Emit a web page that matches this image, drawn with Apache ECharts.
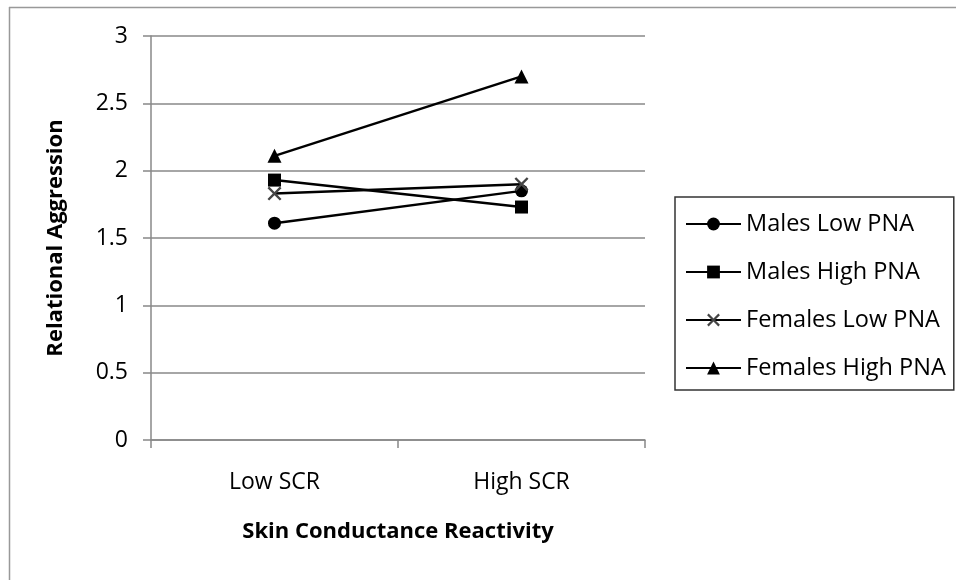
<!DOCTYPE html>
<html>
<head>
<meta charset="utf-8">
<script src="https://cdn.jsdelivr.net/npm/echarts@6/dist/echarts.min.js"></script>
<style>html,body{margin:0;padding:0;background:#fff;}#c{width:956px;height:580px;}</style>
</head>
<body>
<div id="c"></div>
<script>
var categories = ['Low SCR', 'High SCR'];
var seriesNames = ['Males Low PNA', 'Males High PNA', 'Females Low PNA', 'Females High PNA'];
var malesLowPNA = [1.61, 1.85];
var malesHighPNA = [1.93, 1.73];
var femalesLowPNA = [1.83, 1.90];
var femalesHighPNA = [2.11, 2.70];
var yTicks = [0, 0.5, 1, 1.5, 2, 2.5, 3];

var FONT = 'Open Sans';
var crossPath = 'path://M0,1.2L1.2,0L5,3.8L8.8,0L10,1.2L6.2,5L10,8.8L8.8,10L5,6.2L1.2,10L0,8.8L3.8,5Z';

function mk(name, data, symbol, size, color) {
  return {
    name: name, type: 'line', data: data,
    symbol: symbol, symbolSize: size,
    lineStyle: {color: '#000', width: 2.5},
    itemStyle: {color: color || '#000'},
    emphasis: {disabled: true},
    animation: false
  };
}

var chart = echarts.init(document.getElementById('c'));
chart.setOption({
  backgroundColor: '#fff',
  animation: false,
  textStyle: {fontFamily: FONT},
  grid: {left: 151, right: 311, top: 36, bottom: 140},
  graphic: [
    {type: 'line', shape: {x1: 9, y1: 7.5, x2: 956, y2: 7.5}, style: {stroke: '#999', lineWidth: 1.5}},
    {type: 'line', shape: {x1: 9.5, y1: 7, x2: 9.5, y2: 580}, style: {stroke: '#999', lineWidth: 1.5}}
  ],
  legend: {
    orient: 'vertical', left: 675, top: 197,
    padding: [15, 8, 10, 10],
    itemGap: 24, itemWidth: 55, itemHeight: 16,
    borderColor: '#333', borderWidth: 1.5,
    data: seriesNames,
    textStyle: {fontFamily: FONT, fontSize: 23.5, color: '#000', lineHeight: 24},
    selectedMode: false
  },
  xAxis: {
    type: 'category', data: categories, boundaryGap: true,
    axisLine: {lineStyle: {color: '#888', width: 1.5}},
    axisTick: {show: true, length: 8, lineStyle: {color: '#888', width: 1.5}},
    axisLabel: {fontFamily: FONT, fontSize: 23, color: '#000', margin: 30, lineHeight: 24},
    name: 'Skin Conductance Reactivity', nameLocation: 'middle', nameGap: 81,
    nameTextStyle: {fontFamily: FONT, fontSize: 22, fontWeight: 'bold', color: '#000'}
  },
  yAxis: {
    type: 'value', min: 0, max: 3, interval: 0.5,
    axisLine: {show: true, lineStyle: {color: '#888', width: 1.5}},
    axisTick: {show: true, length: 8, lineStyle: {color: '#888', width: 1.5}},
    splitLine: {lineStyle: {color: '#888', width: 1.5}},
    axisLabel: {fontFamily: FONT, fontSize: 23, color: '#000', margin: 23,
      formatter: function (v) { return yTicks.indexOf(v) >= 0 ? String(v) : ''; }},
    name: 'Relational Aggression', nameLocation: 'middle', nameGap: 84, nameRotate: 90,
    nameTextStyle: {fontFamily: FONT, fontSize: 22, fontWeight: 'bold', color: '#000'}
  },
  series: [
    mk(seriesNames[0], malesLowPNA, 'circle', 13),
    mk(seriesNames[1], malesHighPNA, 'rect', 13),
    mk(seriesNames[2], femalesLowPNA, crossPath, 14, '#444'),
    mk(seriesNames[3], femalesHighPNA, 'triangle', 14)
  ]
});
</script>
</body>
</html>
